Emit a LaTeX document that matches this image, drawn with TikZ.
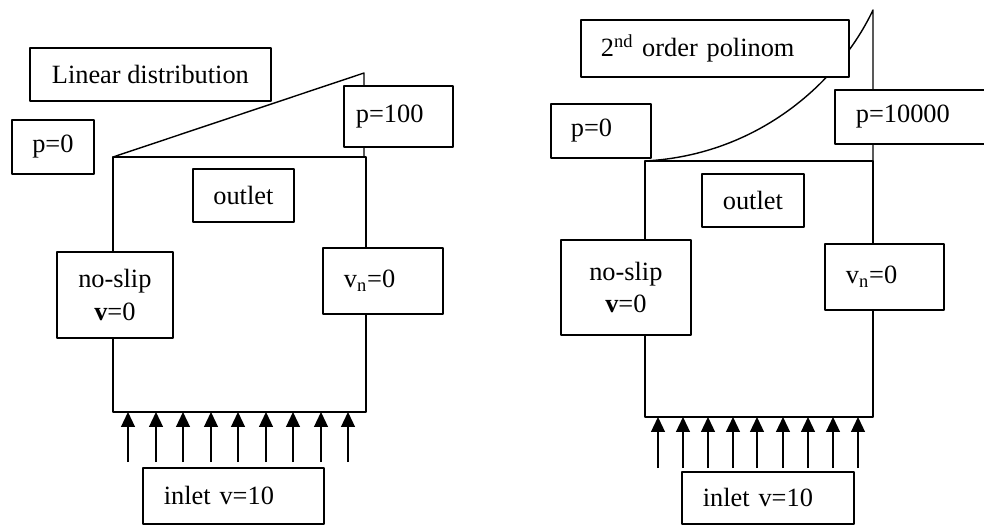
\documentclass[tikz,border=0pt]{standalone}
\usepackage{fontspec}
\setmainfont{Liberation Serif}
\usetikzlibrary{arrows.meta}

\begin{document}
\begin{tikzpicture}[x=0.2mm,y=-0.2mm,>={Triangle[length=3mm,width=2.8mm]},line join=round,
    font=\fontsize{15}{18.4}\selectfont,
    bc/.style={draw,fill=white,line width=1pt,inner sep=0pt,align=center,anchor=north west},
    bl/.style={draw,fill=white,line width=1pt,inner ysep=0pt,inner xsep=4.2mm,align=left,anchor=north west},
    flow/.style={->,line width=0.7pt}]
  \useasboundingbox (0,0) rectangle (984,525);
  % left: linear distribution
  \coordinate (LA) at (113,157);
  \coordinate (LB) at (366,412);
  \coordinate (LT) at (364,73);
  \coordinate (LK) at (364,157);
  \draw[line width=1pt] (LA) rectangle (LB);
  \draw[line width=0.8pt] (LA) -- (LT) -- (LK);
  \draw[flow] (128,462) -- (128,412);
  \draw[flow] (156,462) -- (156,412);
  \draw[flow] (183,462) -- (183,412);
  \draw[flow] (211,462) -- (211,412);
  \draw[flow] (238,462) -- (238,412);
  \draw[flow] (266,462) -- (266,412);
  \draw[flow] (293,462) -- (293,412);
  \draw[flow] (321,462) -- (321,412);
  \draw[flow] (348,462) -- (348,412);
  \node[bc,minimum width=48.2mm,minimum height=10.6mm] (linL) at (29,47) {Linear distribution};
  \node[bc,minimum width=16.4mm,minimum height=10.8mm] (p0L) at (11,119) {p=0};
  \node[bl,inner xsep=2.4mm,text width=17mm,minimum height=12.2mm] (p100) at (343,85) {p=100};
  \node[bc,minimum width=20.2mm,minimum height=10.6mm] (outL) at (192,168) {outlet};
  \node[bc,minimum width=23.2mm,minimum height=17.2mm] (wallL) at (56,251) {no-slip\\\textbf{v}=0};
  \node[bl,text width=15.6mm,minimum height=13.2mm] (vnL) at (322,247) {v\textsubscript{n}=0};
  \node[bl,text width=27.8mm,minimum height=11.2mm] (inL) at (142,467) {inlet v=10};
  % right: 2nd order polynomial
  \coordinate (RA) at (645,161);
  \coordinate (RB) at (873,417);
  \coordinate (RT) at (873,10);
  \coordinate (RK) at (873,161);
  \draw[line width=1pt] (RA) rectangle (RB);
  \draw[line width=0.8pt] (RA) .. controls (760,155) and (840,80) .. (RT) -- (RK);
  \draw[flow] (658,468) -- (658,417);
  \draw[flow] (683,468) -- (683,417);
  \draw[flow] (708,468) -- (708,417);
  \draw[flow] (733,468) -- (733,417);
  \draw[flow] (757,468) -- (757,417);
  \draw[flow] (783,468) -- (783,417);
  \draw[flow] (808,468) -- (808,417);
  \draw[flow] (833,468) -- (833,417);
  \draw[flow] (858,468) -- (858,417);
  \node[bl,inner xsep=4mm,text width=45.6mm,minimum height=11.4mm] (polR) at (580,19) {2\textsuperscript{nd} order polinom};
  \node[bl,inner xsep=4mm,text width=12mm,minimum height=10.8mm] (p0R) at (550,103) {p=0};
  \node[bl,text width=23.6mm,minimum height=10.8mm] (p10000) at (834,89) {p=10000};
  \node[bc,minimum width=20.4mm,minimum height=10.6mm] (outR) at (701,173) {outlet};
  \node[bc,minimum width=26mm,minimum height=19mm] (wallR) at (560,239) {no-slip\\\textbf{v}=0};
  \node[bl,text width=15.4mm,minimum height=13.2mm] (vnR) at (824,243) {v\textsubscript{n}=0};
  \node[bl,text width=26mm,minimum height=10.4mm] (inR) at (681,471) {inlet v=10};
\end{tikzpicture}
\end{document}
